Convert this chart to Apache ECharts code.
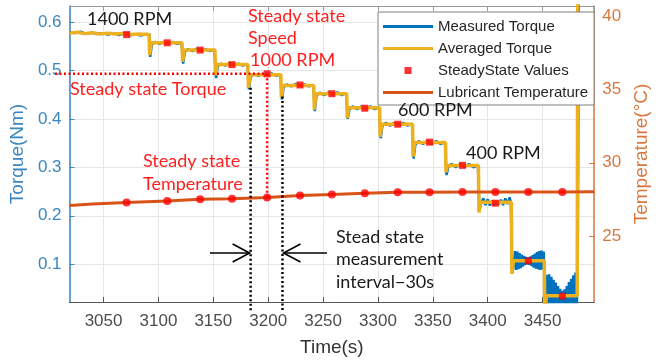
<!DOCTYPE html>
<html>
<head>
<meta charset="utf-8">
<script src="https://cdn.jsdelivr.net/npm/echarts@6/dist/echarts.min.js"></script>
<style>
html, body { margin: 0; padding: 0; background: #fff; }
#chart { width: 659px; height: 362px; }
</style>
</head>
<body>
<div id="chart"></div>
<script>
// raw torque signal, [time s, torque Nm]
const measuredTorque = [
  [3019,0.579],[3024,0.577],[3029,0.580],[3034,0.576],[3039,0.578],[3044,0.575],[3049,0.577],[3054,0.574],
  [3059,0.577],[3064,0.573],[3069,0.576],[3074,0.572],[3079,0.575],[3084,0.572],[3089,0.575],[3092,0.574],
  [3092.5,0.528],[3094,0.553],[3097,0.559],[3101,0.555],[3105,0.559],[3109,0.556],[3113,0.559],[3117,0.555],[3121,0.558],[3122,0.557],
  [3122.5,0.514],[3124,0.538],[3127,0.544],[3131,0.540],[3135,0.545],[3139,0.541],[3143,0.544],[3147,0.540],[3151,0.543],
  [3152.5,0.484],[3154,0.508],[3157,0.514],[3161,0.510],[3165,0.515],[3169,0.511],[3173,0.514],[3177,0.510],[3181,0.513],
  [3182.5,0.461],[3184,0.487],[3187,0.493],[3191,0.489],[3195,0.493],[3199,0.490],[3203,0.494],[3207,0.489],[3211,0.492],
  [3212.5,0.440],[3214,0.465],[3217,0.471],[3221,0.467],[3225,0.472],[3229,0.468],[3233,0.471],[3237,0.467],[3241,0.470],
  [3242.5,0.416],[3244,0.448],[3247,0.454],[3251,0.449],[3255,0.455],[3259,0.450],[3263,0.455],[3267,0.449],[3271,0.453],
  [3272.5,0.400],[3274,0.419],[3277,0.426],[3281,0.420],[3285,0.426],[3289,0.421],[3293,0.426],[3297,0.420],[3301,0.424],
  [3302.5,0.360],[3304,0.385],[3307,0.392],[3311,0.386],[3315,0.392],[3319,0.387],[3323,0.392],[3327,0.386],[3331,0.390],
  [3332.5,0.318],[3334,0.346],[3337,0.354],[3341,0.348],[3345,0.354],[3349,0.348],[3353,0.354],[3357,0.348],[3361,0.352],
  [3362.5,0.284],[3364,0.300],[3367,0.307],[3371,0.300],[3375,0.307],[3379,0.301],[3383,0.307],[3387,0.300],[3391,0.305],
  [3392.5,0.212],[3394,0.225],[3396,0.236],[3398,0.222],[3400,0.234],[3402,0.221],[3404,0.231],[3406,0.222],[3408,0.228],
  [3410,0.224],[3412,0.233],[3414,0.222],[3416,0.236],[3418,0.224],[3420,0.238],[3421,0.228],
  [3422.5,0.082],[3424,0.100],[3425,0.127],[3426,0.088],[3427,0.126],[3428,0.090],[3429,0.123],[3430,0.092],[3431,0.120],
  [3432,0.095],[3433,0.117],[3434,0.098],[3435,0.115],[3436,0.100],[3437,0.114],[3438,0.099],[3439,0.116],[3440,0.096],
  [3441,0.119],[3442,0.093],[3443,0.122],[3444,0.091],[3445,0.125],[3446,0.089],[3447,0.127],[3448,0.088],[3449,0.128],
  [3450,0.090],[3451,0.126],[3452.5,0.0],
  [3454,0.078],[3455,0.0],[3456,0.079],[3457,0.0],[3458,0.074],[3459,0.0],[3460,0.068],[3461,0.0],[3462,0.062],[3463,0.0],
  [3464,0.055],[3465,0.0],[3466,0.049],[3467,0.0],[3468,0.045],[3469,0.0],[3470,0.048],[3471,0.0],[3472,0.055],[3473,0.0],
  [3474,0.063],[3475,0.0],[3476,0.070],[3477,0.0],[3478,0.077],[3479,0.0],[3480,0.083],[3481,0.0],[3482,0.086],[3483,0.7]
];

// moving average of the torque
const averagedTorque = [
  [3019,0.577],[3026,0.579],[3033,0.576],[3040,0.578],[3047,0.575],[3054,0.577],[3061,0.575],[3068,0.576],[3075,0.574],
  [3082,0.575],[3091.5,0.574],[3092,0.532],[3093.5,0.557],[3121.5,0.557],[3122,0.518],[3123.5,0.542],[3151.5,0.542],
  [3152,0.490],[3153.5,0.512],[3181.5,0.512],[3182,0.464],[3183.5,0.491],[3211.5,0.491],[3212,0.444],[3213.5,0.469],
  [3241.5,0.469],[3242,0.419],[3243.5,0.452],[3271.5,0.452],[3272,0.402],[3273.5,0.423],[3301.5,0.423],[3302,0.363],
  [3303.5,0.389],[3331.5,0.389],[3332,0.322],[3333.5,0.351],[3361.5,0.351],[3362,0.290],[3363.5,0.304],[3391.5,0.304],
  [3392,0.207],[3393.5,0.228],[3421.5,0.228],[3422,0.080],[3423.5,0.107],[3451.5,0.107],[3452,0.0],[3453.5,0.035],
  [3481.5,0.035],[3482,0.7],[3497,0.7]
];

// steady state picks (one per speed step)
const steadyTimes  = [3071, 3108, 3138, 3167, 3199, 3229, 3258, 3288, 3318, 3347, 3377, 3407, 3437, 3468];
const steadyTorque = [0.574, 0.557, 0.542, 0.512, 0.493, 0.470, 0.452, 0.422, 0.389, 0.352, 0.304, 0.226, 0.107, 0.034];
const steadyTemp   = [27.29, 27.4, 27.51, 27.56, 27.63, 27.78, 27.85, 27.92, 28.0, 28.0, 28.01, 28.02, 28.02, 28.02];

// lubricant temperature
const tempTimes  = [3019, 3040, 3071, 3108, 3138, 3167, 3199, 3229, 3258, 3288, 3318, 3347, 3377, 3407, 3437, 3468, 3497];
const tempValues = [27.1, 27.2, 27.29, 27.4, 27.51, 27.56, 27.63, 27.78, 27.85, 27.92, 28.0, 28.0, 28.01, 28.02, 28.02, 28.02, 28.03];

const legendNames = ['Measured Torque', 'Averaged Torque', 'SteadyState Values', 'Lubricant Temperature'];

const blue = '#0072BD';
const yellow = '#EDB120';
const red = '#FF0000';
const orange = '#D95319';
const leftColor = '#3a86be';
const rightColor = '#d9773f';
const gridColor = '#e6e6e6';
const tickFont = 'Liberation Sans';
const noteFont = 'Lato';

// legend icons: a plain line and a small centred square
const lineIcon = 'path://M0 0M50 14M0 5.5L50 5.5L50 8.5L0 8.5Z';
const squareIcon = 'path://M0 0M10 10M2.5 2.5L7.5 2.5L7.5 7.5L2.5 7.5Z';

const chart = echarts.init(document.getElementById('chart'));

chart.setOption({
    animation: false,
    grid: { left: 65, right: 54, top: 6, bottom: 59 },
    legend: {
        orient: 'vertical',
        left: 378,
        top: 12,
        padding: [7, 6, 5, 5],
        itemGap: 7,
        itemWidth: 50,
        itemHeight: 14,
        backgroundColor: '#fff',
        borderColor: '#808080',
        borderWidth: 1,
        textStyle: { fontFamily: tickFont, fontSize: 15, color: '#262626' },
        data: [
            { name: legendNames[0], icon: lineIcon },
            { name: legendNames[1], icon: lineIcon },
            { name: legendNames[2], icon: squareIcon },
            { name: legendNames[3], icon: lineIcon }
        ]
    },
    xAxis: [
        {
            type: 'value',
            min: 3019,
            max: 3497,
            splitNumber: 10,
            name: 'Time(s)',
            nameLocation: 'middle',
            nameGap: 36,
            nameTextStyle: { fontFamily: tickFont, fontSize: 19, color: '#333' },
            axisLine: { lineStyle: { color: '#555', width: 1 } },
            axisTick: { inside: true, length: 5, lineStyle: { color: '#555' } },
            axisLabel: {
                fontFamily: tickFont, fontSize: 17, color: '#4d4d4d', margin: 11,
                showMinLabel: false, showMaxLabel: false,
                formatter: v => String(v)
            },
            splitLine: { show: true, lineStyle: { color: gridColor } }
        },
        {
            type: 'value',
            position: 'top',
            min: 3019,
            max: 3497,
            splitNumber: 10,
            axisLine: { lineStyle: { color: '#999', width: 1 } },
            axisTick: { inside: true, length: 5, lineStyle: { color: '#999' } },
            axisLabel: { show: false },
            splitLine: { show: false }
        }
    ],
    yAxis: [
        {
            type: 'value',
            position: 'left',
            min: 0.022,
            max: 0.633,
            name: 'Torque(Nm)',
            nameLocation: 'middle',
            nameGap: 42,
            nameTextStyle: { fontFamily: tickFont, fontSize: 19, color: leftColor },
            axisLine: { show: true, lineStyle: { color: leftColor, width: 1.5 } },
            axisTick: { show: true, inside: true, length: 5, lineStyle: { color: leftColor } },
            axisLabel: {
                fontFamily: tickFont, fontSize: 17, color: leftColor, margin: 8,
                showMinLabel: false, showMaxLabel: false,
                formatter: v => v.toFixed(1)
            },
            splitLine: { show: true, lineStyle: { color: gridColor } }
        },
        {
            type: 'value',
            position: 'right',
            min: 20.52,
            max: 40.68,
            name: 'Temperature(°C)',
            nameLocation: 'middle',
            nameGap: 36,
            nameTextStyle: { fontFamily: tickFont, fontSize: 19, color: rightColor },
            axisLine: { show: true, lineStyle: { color: rightColor, width: 1.5 } },
            axisTick: { show: true, inside: true, length: 5, lineStyle: { color: rightColor } },
            axisLabel: {
                fontFamily: tickFont, fontSize: 17, color: rightColor, margin: 8,
                showMinLabel: false, showMaxLabel: false
            },
            splitLine: { show: false }
        }
    ],
    series: [
        {
            name: legendNames[0],
            type: 'line',
            symbol: 'none',
            color: blue,
            lineStyle: { color: blue, width: 2.5 },
            data: measuredTorque,
            z: 2
        },
        {
            name: legendNames[1],
            type: 'line',
            symbol: 'none',
            color: yellow,
            lineStyle: { color: yellow, width: 3.5 },
            data: averagedTorque,
            z: 3
        },
        {
            name: legendNames[3],
            type: 'line',
            yAxisIndex: 1,
            symbol: 'none',
            color: orange,
            lineStyle: { color: orange, width: 3 },
            data: tempTimes.map((t, i) => [t, tempValues[i]]),
            z: 3
        },
        {
            name: legendNames[2],
            type: 'scatter',
            symbol: 'rect',
            symbolSize: 7,
            color: red,
            itemStyle: { color: red },
            data: steadyTimes.map((t, i) => [t, steadyTorque[i]]),
            z: 5
        },
        {
            name: 'SteadyState Temperature',
            type: 'scatter',
            yAxisIndex: 1,
            symbol: 'circle',
            symbolSize: 8,
            itemStyle: { color: red },
            data: steadyTimes.map((t, i) => [t, steadyTemp[i]]),
            z: 5
        }
    ]
});

// annotations
const px = (t, v) => chart.convertToPixel({ xAxisIndex: 0, yAxisIndex: 0 }, [t, v]);
const pxT = (t, v) => chart.convertToPixel({ xAxisIndex: 0, yAxisIndex: 1 }, [t, v]);

const ssT = steadyTimes[4];
const ssTorquePt = px(ssT, steadyTorque[4]);
const ssTempPt = pxT(ssT, steadyTemp[4]);
const winA = px(3184, 0.464);
const winB = px(3213, 0.446);
const bottomY = px(3184, 0.022)[1] + 10;
const arrowY = 253;

function note(text, x, y, color) {
    return {
        type: 'text', x: x, y: y, z: 100,
        style: { text: text, fill: color, font: '18px ' + noteFont, verticalAlign: 'middle' }
    };
}
function dotted(x1, y1, x2, y2, color) {
    return {
        type: 'line', z: 90,
        shape: { x1: x1, y1: y1, x2: x2, y2: y2 },
        style: { stroke: color, lineWidth: 2.5, lineDash: [2, 2.5] }
    };
}
function arrow(tipX, dir) {
    return {
        type: 'polyline', z: 90,
        shape: { points: [[tipX - dir * 17, arrowY - 9], [tipX, arrowY], [tipX - dir * 17, arrowY + 9]] },
        style: { stroke: '#000', lineWidth: 1.6, fill: null }
    };
}

const noteRed = '#ff1f1f';
const noteBlack = '#1a1a1a';

chart.setOption({
    graphic: [
        dotted(55, ssTorquePt[1], ssTorquePt[0], ssTorquePt[1], red),
        dotted(ssTorquePt[0], ssTorquePt[1], ssTempPt[0], ssTempPt[1], red),
        dotted(winA[0], winA[1], winA[0], bottomY, '#000'),
        dotted(winB[0], winB[1], winB[0], bottomY, '#000'),
        { type: 'line', z: 90, shape: { x1: 210, y1: arrowY, x2: winA[0] - 1, y2: arrowY }, style: { stroke: '#000', lineWidth: 1.6 } },
        arrow(winA[0] - 1, 1),
        { type: 'line', z: 90, shape: { x1: 327, y1: arrowY, x2: winB[0] + 1, y2: arrowY }, style: { stroke: '#000', lineWidth: 1.6 } },
        arrow(winB[0] + 1, -1),
        note('1400 RPM', 87, 19, noteBlack),
        note('Steady state', 248, 16, noteRed),
        note('Speed', 248, 38, noteRed),
        note('1000 RPM', 250, 60, noteRed),
        note('Steady state Torque', 70, 89, noteRed),
        note('600 RPM', 398, 110, noteBlack),
        note('400 RPM', 466, 153, noteBlack),
        note('Steady state', 143, 161, noteRed),
        note('Temperature', 143, 184, noteRed),
        note('Stead state', 336, 237, noteBlack),
        note('measurement', 336, 259, noteBlack),
        note('interval\u221230s', 336, 282, noteBlack)
    ]
});
</script>
</body>
</html>
